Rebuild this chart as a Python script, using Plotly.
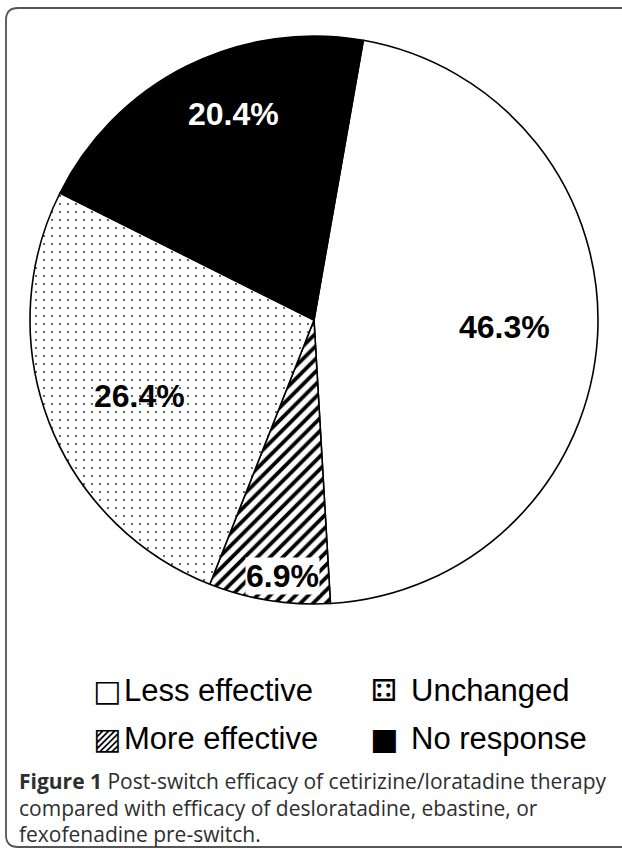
import math
import plotly.graph_objects as go

# ---- data ----
categories = ["Less effective", "More effective", "Unchanged", "No response"]
values = [46.3, 6.9, 26.4, 20.4]
legend_order = ["Less effective", "Unchanged", "More effective", "No response"]
legend_symbols = {"Less effective": "□", "Unchanged": "⚃", "More effective": "▨", "No response": "■"}
caption_lines = [
    "<b>Figure 1</b> Post-switch efficacy of cetirizine/loratadine therapy",
    "compared with efficacy of desloratadine, ebastine, or",
    "fexofenadine pre-switch.",
]

# ---- style ----
W, H = 622, 852
CX, CY, R = 314, 320, 284
ROTATION = 10
fill_colors = ["white", "white", "white", "black"]
pattern = dict(
    shape=["", "/", ".", ""],
    fgcolor=["black", "black", "#333333", "black"],
    bgcolor=["white", "white", "white", "black"],
    size=[8, 9, 8, 8],
    solidity=[0.3, 0.42, 0.05, 0.3],
)
label_colors = ["black", "black", "black", "white"]
label_radius = [0.67, 0.91, 0.67, 0.78]
label_angle_nudge = [-1.2, -2.0, -2.7, 5.3]
label_bg = [None, "white", None, None]


def px(x):
    return x / W


def py(y):
    return 1 - y / H


fig = go.Figure()
fig.add_trace(go.Pie(
    labels=categories,
    values=values,
    sort=False,
    direction="clockwise",
    rotation=ROTATION,
    textinfo="none",
    hoverinfo="label+percent",
    showlegend=False,
    marker=dict(colors=fill_colors, pattern=pattern,
                line=dict(color="black", width=1.6)),
    domain=dict(x=[px(CX - R), px(CX + R)], y=[py(CY + R), py(CY - R)]),
))

annotations = []
total = sum(values)
cum = 0.0
for i, v in enumerate(values):
    mid = math.radians(ROTATION + 360 * (cum + v / 2) / total + label_angle_nudge[i])
    cum += v
    lx = CX + label_radius[i] * R * math.sin(mid)
    ly = CY - label_radius[i] * R * math.cos(mid)
    a = dict(x=px(lx), y=py(ly), xref="paper", yref="paper",
             text=f"<b>{v:.1f}%</b>", showarrow=False,
             font=dict(family="Liberation Sans, Arial, sans-serif", size=32,
                       color=label_colors[i]),
             xanchor="center", yanchor="middle")
    if label_bg[i]:
        a.update(bgcolor=label_bg[i], borderpad=0)
    annotations.append(a)

# legend (2 x 2 grid)
col_sym_x = [107, 384]
col_txt_x = [122, 409]
row_y = [690, 738]
for k, name in enumerate(legend_order):
    r, c = divmod(k, 2)
    annotations.append(dict(x=px(col_sym_x[c]), y=py(row_y[r]), xref="paper", yref="paper",
                            text=legend_symbols[name], showarrow=False,
                            font=dict(family="DejaVu Sans", size=30, color="black"),
                            xanchor="center", yanchor="middle"))
    annotations.append(dict(x=px(col_txt_x[c]), y=py(row_y[r]), xref="paper", yref="paper",
                            text=name, showarrow=False,
                            font=dict(family="Liberation Sans, Arial, sans-serif", size=31,
                                      color="black"),
                            xanchor="left", yanchor="middle"))

caption_y = [781, 808, 834]
for line, yy in zip(caption_lines, caption_y):
    annotations.append(dict(x=px(17), y=py(yy), xref="paper", yref="paper",
                            text=line, showarrow=False,
                            font=dict(family="Open Sans, Noto Sans, sans-serif", size=21,
                                      color="#2e2e2e"),
                            xanchor="left", yanchor="middle"))

# rounded frame
x0, y0, x1, y1, rr = 6, 8, 660, 847, 12
path = (f"M {px(x0+rr)},{py(y0)} L {px(x1)},{py(y0)} L {px(x1)},{py(y1)} "
        f"L {px(x0+rr)},{py(y1)} Q {px(x0)},{py(y1)} {px(x0)},{py(y1-rr)} "
        f"L {px(x0)},{py(y0+rr)} Q {px(x0)},{py(y0)} {px(x0+rr)},{py(y0)} Z")
shapes = [dict(type="path", path=path, xref="paper", yref="paper",
               line=dict(color="#555555", width=1.8), fillcolor="rgba(0,0,0,0)", layer="below")]

fig.update_layout(
    width=W, height=H,
    margin=dict(l=0, r=0, t=0, b=0),
    paper_bgcolor="white", plot_bgcolor="white",
    annotations=annotations,
    shapes=shapes,
)

fig.write_html("out.html", config={"displayModeBar": False},
               post_script="document.body.style.margin='0';")
